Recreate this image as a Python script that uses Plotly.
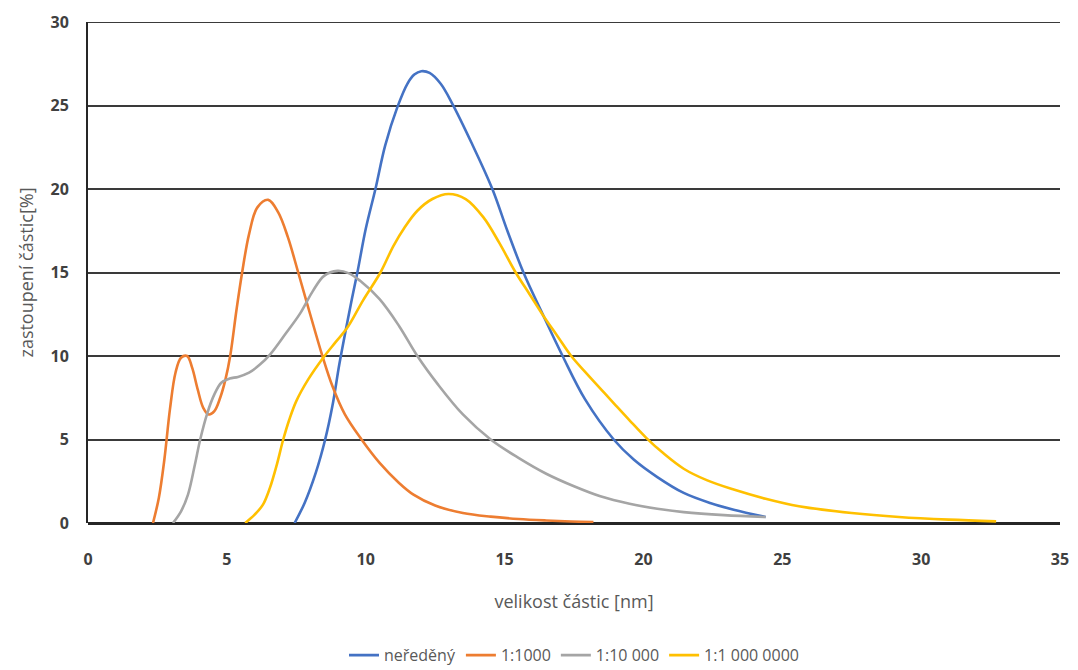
import plotly.graph_objects as go

# --- data ---
blue_x = [7.44, 7.8, 8.2, 8.54, 8.8, 9.05, 9.3, 9.5, 9.7, 10.0, 10.35, 10.7, 11.14, 11.5, 11.75, 12.0, 12.3, 12.7, 13.12, 13.8, 14.56, 15.1, 15.68, 16.4, 17.09, 17.9, 18.93, 19.65, 20.5, 21.45, 22.4, 23.25, 24.4]
blue_y = [0.0, 1.2, 3.0, 5.0, 7.0, 9.5, 11.7, 13.4, 15.0, 17.6, 20.0, 22.6, 24.9, 26.3, 26.85, 27.05, 26.95, 26.3, 25.1, 22.8, 20.0, 17.5, 15.0, 12.4, 10.0, 7.4, 5.0, 3.8, 2.75, 1.8, 1.2, 0.8, 0.36]

orange_x = [2.34, 2.55, 2.75, 2.95, 3.15, 3.35, 3.57, 3.75, 3.95, 4.15, 4.35, 4.55, 4.76, 4.95, 5.12, 5.35, 5.55, 5.8, 6.1, 6.49, 6.85, 7.2, 7.57, 8.0, 8.44, 8.8, 9.25, 9.85, 10.5, 11.2, 11.72, 12.5, 13.5, 14.5, 15.5, 16.5, 17.4, 18.2]
orange_y = [0.0, 1.5, 3.8, 6.8, 9.0, 9.9, 10.0, 9.3, 8.0, 6.9, 6.5, 6.7, 7.5, 8.6, 10.0, 12.8, 15.0, 17.3, 18.9, 19.35, 18.6, 17.1, 15.0, 12.5, 10.0, 8.2, 6.5, 5.0, 3.6, 2.4, 1.7, 1.05, 0.6, 0.38, 0.24, 0.15, 0.09, 0.06]

gray_x = [3.06, 3.35, 3.6, 3.85, 4.04, 4.3, 4.55, 4.8, 5.1, 5.4, 5.8, 6.2, 6.56, 7.1, 7.64, 8.1, 8.5, 8.98, 9.4, 9.8, 10.5, 11.2, 11.86, 12.6, 13.5, 14.5, 15.5, 16.5, 17.5, 18.45, 19.5, 20.5, 21.45, 22.9, 24.4]
gray_y = [0.0, 0.7, 1.7, 3.5, 5.0, 6.6, 7.7, 8.4, 8.65, 8.75, 9.0, 9.5, 10.1, 11.3, 12.55, 13.9, 14.8, 15.1, 14.95, 14.5, 13.4, 11.8, 10.0, 8.3, 6.5, 5.0, 3.9, 2.95, 2.2, 1.6, 1.15, 0.85, 0.65, 0.47, 0.36]

yellow_x = [5.66, 6.0, 6.3, 6.55, 6.8, 7.03, 7.25, 7.5, 7.93, 8.47, 8.9, 9.34, 9.91, 10.53, 11.0, 11.4, 11.86, 12.4, 12.98, 13.6, 14.24, 14.8, 15.4, 15.9, 16.4, 16.9, 17.4, 17.9, 18.45, 19.0, 19.5, 20.1, 20.7, 21.45, 22.3, 23.25, 24.4, 25.6, 27.5, 29.2, 31.0, 32.7]
yellow_y = [0.0, 0.5, 1.1, 2.1, 3.5, 5.0, 6.2, 7.3, 8.6, 9.9, 10.8, 11.7, 13.35, 15.0, 16.6, 17.7, 18.7, 19.4, 19.7, 19.4, 18.3, 16.8, 15.0, 13.7, 12.4, 11.2, 10.0, 9.05, 8.05, 7.05, 6.15, 5.1, 4.2, 3.25, 2.55, 2.0, 1.45, 1.0, 0.6, 0.36, 0.2, 0.1]

series_names = ["neředěný", "1:1000", "1:10 000", "1:1 000 0000"]
series_colors = ["#4472C4", "#ED7D31", "#A5A5A5", "#FFC000"]

x_ticks = [0, 5, 10, 15, 20, 25, 30, 35]
y_ticks = [0, 5, 10, 15, 20, 25, 30]

fig = go.Figure()
for name, color, xs, ys in zip(series_names, series_colors,
                               [blue_x, orange_x, gray_x, yellow_x],
                               [blue_y, orange_y, gray_y, yellow_y]):
    fig.add_trace(go.Scatter(x=xs, y=ys, mode="lines", name=name,
                             line=dict(color=color, width=2.6, shape="spline", smoothing=1.0)))

# top gridline at y = 30 (edge of the plotting area)
fig.add_shape(type="line", xref="paper", yref="y", x0=0, x1=1, y0=30, y1=30,
              line=dict(color="#3a3a3a", width=2), layer="below")

font_family = "Open Sans, Liberation Sans, sans-serif"
fig.update_layout(
    width=1078, height=670,
    margin=dict(l=88, r=18, t=22, b=147, autoexpand=False),
    paper_bgcolor="white", plot_bgcolor="white",
    font=dict(family=font_family, color="#595959"),
    xaxis=dict(range=[0, 35], tickvals=x_ticks, showgrid=False, zeroline=False, automargin=False,
               showline=False, ticks="outside", ticklen=22, tickcolor="rgba(0,0,0,0)",
               tickfont=dict(size=16, color="#404040", weight="bold"),
               title=dict(text="velikost částic [nm]", font=dict(size=18, color="#595959"), standoff=26)),
    yaxis=dict(range=[0, 30], tickvals=y_ticks, showgrid=True, gridcolor="#3a3a3a", gridwidth=2,
               zeroline=True, zerolinecolor="#262626", zerolinewidth=3, automargin=False,
               showline=True, linecolor="#262626", linewidth=2,
               ticks="outside", ticklen=14, tickcolor="rgba(0,0,0,0)",
               tickfont=dict(size=16, color="#404040", weight="bold"),
               title=dict(text="zastoupení částic[%]", font=dict(size=18, color="#595959"), standoff=12)),
    legend=dict(orientation="h", x=0.5, xanchor="center", yref="container", y=0.022, yanchor="middle",
                font=dict(size=16, color="#595959"), itemwidth=30, traceorder="normal"),
    showlegend=True,
)

fig.write_html("out.html")
